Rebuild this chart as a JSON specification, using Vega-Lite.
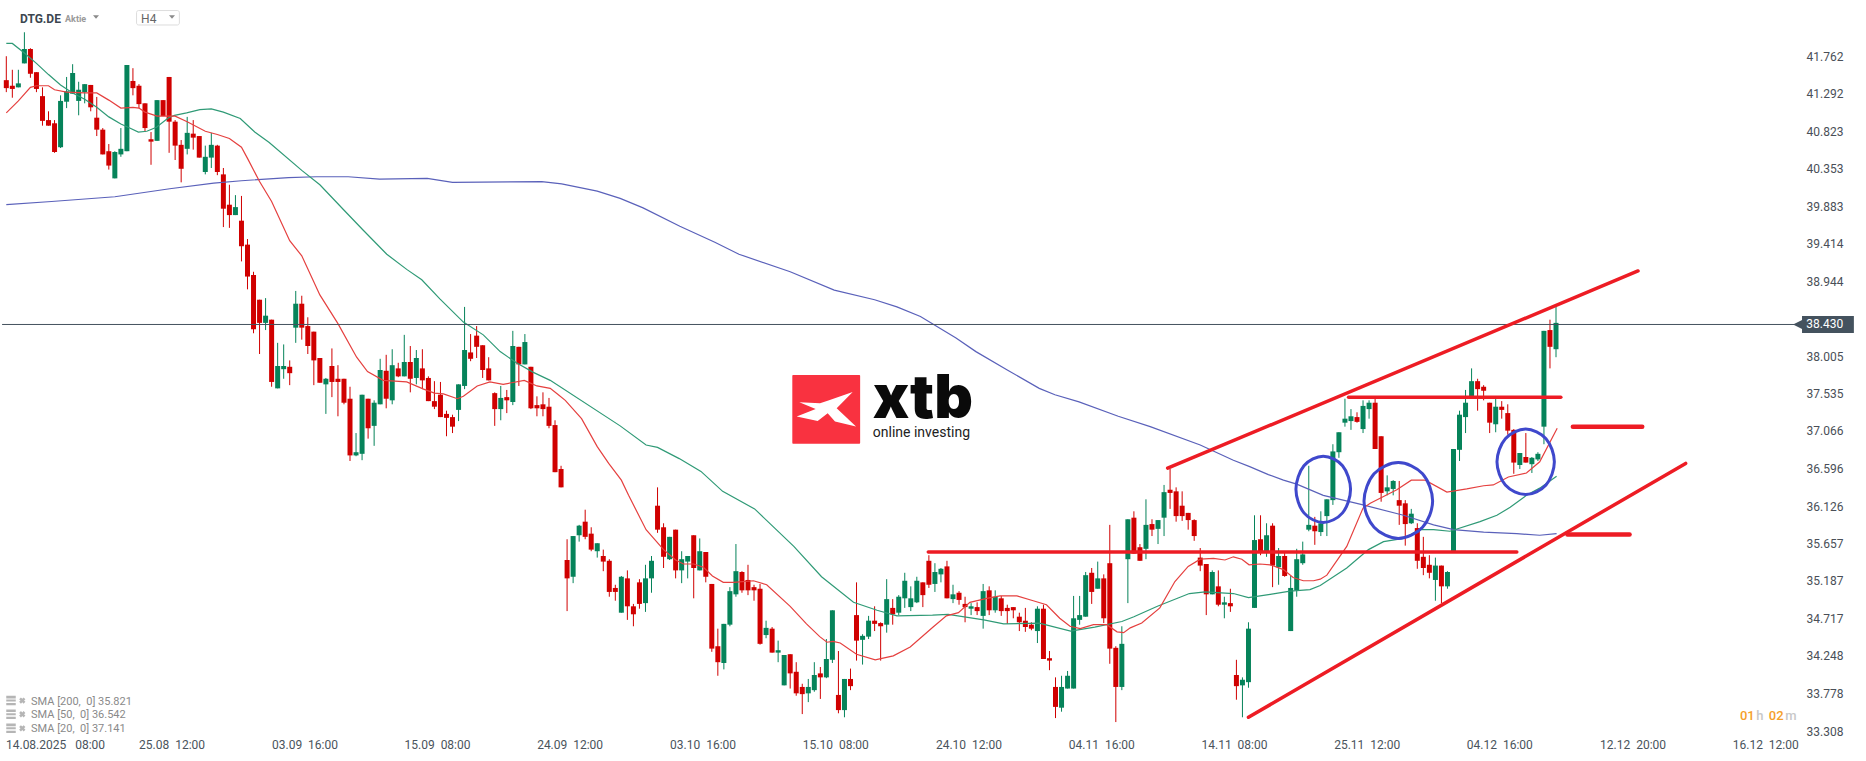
{
"$schema":"https://vega.github.io/schema/vega-lite/v6.json",
"width":1866,"height":761,"padding":0,"autosize":{"type":"none"},"background":"white",
"config":{"font":"Roboto","view":{"stroke":null}},
"datasets":{
"candles":[
{"i":0,"o":41.46,"h":41.76,"l":41.31,"c":41.36},{"i":1,"o":41.39,"h":41.59,"l":41.24,"c":41.35},{"i":2,"o":41.37,"h":41.59,"l":41.37,"c":41.42},{"i":3,"o":41.67,"h":42.06,"l":41.67,"c":41.85},{"i":4,"o":41.85,"h":41.86,"l":41.49,"c":41.54},{"i":5,"o":41.56,"h":41.56,"l":41.31,"c":41.35},{"i":6,"o":41.26,"h":41.37,"l":40.89,"c":40.95},{"i":7,"o":40.96,"h":41.07,"l":40.89,"c":40.89},{"i":8,"o":40.92,"h":40.96,"l":40.55,"c":40.56},{"i":9,"o":40.62,"h":41.27,"l":40.61,"c":41.20},
{"i":10,"o":41.19,"h":41.50,"l":41.11,"c":41.32},{"i":11,"o":41.29,"h":41.66,"l":41.29,"c":41.55},{"i":12,"o":41.20,"h":41.44,"l":41.02,"c":41.34},{"i":13,"o":41.31,"h":41.41,"l":41.17,"c":41.41},{"i":14,"o":41.40,"h":41.40,"l":41.07,"c":41.12},{"i":15,"o":40.99,"h":41.25,"l":40.76,"c":40.84},{"i":16,"o":40.84,"h":40.86,"l":40.53,"c":40.53},{"i":17,"o":40.57,"h":40.66,"l":40.34,"c":40.39},{"i":18,"o":40.23,"h":40.57,"l":40.23,"c":40.56},{"i":19,"o":40.53,"h":40.86,"l":40.50,"c":40.60},
{"i":20,"o":40.57,"h":41.65,"l":40.57,"c":41.65},{"i":21,"o":41.45,"h":41.61,"l":41.27,"c":41.36},{"i":22,"o":41.39,"h":41.41,"l":41.11,"c":41.16},{"i":23,"o":41.17,"h":41.17,"l":40.81,"c":40.86},{"i":24,"o":40.72,"h":40.81,"l":40.40,"c":40.69},{"i":25,"o":40.70,"h":41.21,"l":40.70,"c":41.21},{"i":26,"o":41.21,"h":41.21,"l":41.01,"c":41.01},{"i":27,"o":41.50,"h":41.50,"l":40.55,"c":40.94},{"i":28,"o":40.94,"h":40.96,"l":40.46,"c":40.64},{"i":29,"o":40.65,"h":40.71,"l":40.18,"c":40.35},
{"i":30,"o":40.60,"h":41.00,"l":40.53,"c":40.80},{"i":31,"o":40.79,"h":40.96,"l":40.59,"c":40.74},{"i":32,"o":40.76,"h":40.76,"l":40.49,"c":40.49},{"i":33,"o":40.31,"h":40.64,"l":40.28,"c":40.50},{"i":34,"o":40.49,"h":40.80,"l":40.36,"c":40.65},{"i":35,"o":40.64,"h":40.65,"l":40.27,"c":40.31},{"i":36,"o":40.28,"h":40.36,"l":39.62,"c":39.85},{"i":37,"o":39.90,"h":40.15,"l":39.61,"c":39.77},{"i":38,"o":39.77,"h":40.02,"l":39.77,"c":39.87},{"i":39,"o":39.70,"h":40.01,"l":39.19,"c":39.38},
{"i":40,"o":39.40,"h":39.47,"l":38.84,"c":39.00},{"i":41,"o":39.02,"h":39.06,"l":38.29,"c":38.34},{"i":42,"o":38.71,"h":38.71,"l":38.03,"c":38.42},{"i":43,"o":38.42,"h":38.73,"l":38.33,"c":38.51},{"i":44,"o":38.46,"h":38.46,"l":37.62,"c":37.68},{"i":45,"o":37.60,"h":38.17,"l":37.60,"c":37.88},{"i":46,"o":37.84,"h":38.15,"l":37.72,"c":37.88},{"i":47,"o":37.87,"h":37.95,"l":37.64,"c":37.79},{"i":48,"o":38.36,"h":38.82,"l":38.17,"c":38.66},{"i":49,"o":38.66,"h":38.76,"l":38.21,"c":38.36},
{"i":50,"o":38.38,"h":38.49,"l":38.03,"c":38.13},{"i":51,"o":38.31,"h":38.31,"l":37.64,"c":37.95},{"i":52,"o":37.98,"h":37.98,"l":37.67,"c":37.67},{"i":53,"o":37.65,"h":37.73,"l":37.28,"c":37.72},{"i":54,"o":37.88,"h":38.10,"l":37.49,"c":37.68},{"i":55,"o":37.72,"h":37.89,"l":37.25,"c":37.68},{"i":56,"o":37.72,"h":37.72,"l":37.40,"c":37.42},{"i":57,"o":37.47,"h":37.62,"l":36.69,"c":36.76},{"i":58,"o":36.76,"h":37.04,"l":36.75,"c":36.80},{"i":59,"o":36.78,"h":37.52,"l":36.70,"c":37.52},
{"i":60,"o":37.47,"h":37.47,"l":36.97,"c":37.10},{"i":61,"o":37.13,"h":37.45,"l":36.88,"c":37.42},{"i":62,"o":37.40,"h":37.97,"l":37.40,"c":37.83},{"i":63,"o":37.82,"h":38.02,"l":37.35,"c":37.47},{"i":64,"o":37.45,"h":38.09,"l":37.40,"c":37.89},{"i":65,"o":37.85,"h":37.92,"l":37.74,"c":37.75},{"i":66,"o":37.75,"h":38.27,"l":37.75,"c":37.93},{"i":67,"o":37.93,"h":38.13,"l":37.55,"c":37.72},{"i":68,"o":37.73,"h":38.08,"l":37.65,"c":37.98},{"i":69,"o":37.85,"h":38.09,"l":37.59,"c":37.70},
{"i":70,"o":37.73,"h":37.75,"l":37.44,"c":37.44},{"i":71,"o":37.44,"h":37.69,"l":37.34,"c":37.37},{"i":72,"o":37.52,"h":37.68,"l":37.24,"c":37.24},{"i":73,"o":37.28,"h":37.32,"l":37.00,"c":37.23},{"i":74,"o":37.24,"h":37.27,"l":37.04,"c":37.12},{"i":75,"o":37.33,"h":37.65,"l":37.19,"c":37.65},{"i":76,"o":37.63,"h":38.62,"l":37.59,"c":38.08},{"i":77,"o":38.05,"h":38.28,"l":37.94,"c":37.97},{"i":78,"o":38.26,"h":38.38,"l":37.98,"c":38.12},{"i":79,"o":38.14,"h":38.14,"l":37.73,"c":37.83},
{"i":80,"o":37.85,"h":37.99,"l":37.70,"c":37.70},{"i":81,"o":37.54,"h":37.55,"l":37.13,"c":37.34},{"i":82,"o":37.34,"h":37.63,"l":37.20,"c":37.48},{"i":83,"o":37.49,"h":37.58,"l":37.29,"c":37.45},{"i":84,"o":37.43,"h":38.32,"l":37.39,"c":38.13},{"i":85,"o":38.12,"h":38.12,"l":37.63,"c":37.90},{"i":86,"o":37.90,"h":38.28,"l":37.90,"c":38.18},{"i":87,"o":37.87,"h":37.87,"l":37.34,"c":37.35},{"i":88,"o":37.39,"h":37.50,"l":37.25,"c":37.35},{"i":89,"o":37.40,"h":37.55,"l":37.25,"c":37.34},
{"i":90,"o":37.37,"h":37.48,"l":37.10,"c":37.13},{"i":91,"o":37.14,"h":37.20,"l":36.55,"c":36.55},{"i":92,"o":36.59,"h":36.63,"l":36.36,"c":36.36},{"i":93,"o":35.45,"h":35.71,"l":34.81,"c":35.22},{"i":94,"o":35.24,"h":35.75,"l":35.16,"c":35.75},{"i":95,"o":35.76,"h":35.89,"l":35.68,"c":35.88},{"i":96,"o":35.93,"h":36.08,"l":35.71,"c":35.74},{"i":97,"o":35.78,"h":35.86,"l":35.56,"c":35.58},{"i":98,"o":35.56,"h":35.66,"l":35.48,"c":35.66},{"i":99,"o":35.50,"h":35.58,"l":35.31,"c":35.43},
{"i":100,"o":35.44,"h":35.46,"l":34.99,"c":35.05},{"i":101,"o":35.10,"h":35.14,"l":34.94,"c":35.05},{"i":102,"o":34.79,"h":35.25,"l":34.79,"c":35.24},{"i":103,"o":35.22,"h":35.32,"l":34.70,"c":34.87},{"i":104,"o":34.87,"h":34.90,"l":34.62,"c":34.77},{"i":105,"o":35.17,"h":35.21,"l":34.84,"c":34.90},{"i":106,"o":34.91,"h":35.39,"l":34.80,"c":35.22},{"i":107,"o":35.22,"h":35.50,"l":35.04,"c":35.44},{"i":108,"o":36.13,"h":36.36,"l":35.79,"c":35.83},{"i":109,"o":35.86,"h":35.91,"l":35.35,"c":35.49},
{"i":110,"o":35.46,"h":35.74,"l":35.45,"c":35.74},{"i":111,"o":35.83,"h":35.83,"l":35.22,"c":35.32},{"i":112,"o":35.32,"h":35.56,"l":35.16,"c":35.46},{"i":113,"o":35.43,"h":35.50,"l":35.22,"c":35.50},{"i":114,"o":35.76,"h":35.76,"l":34.97,"c":35.35},{"i":115,"o":35.32,"h":35.72,"l":35.32,"c":35.56},{"i":116,"o":35.55,"h":35.55,"l":35.17,"c":35.24},{"i":117,"o":35.15,"h":35.15,"l":34.30,"c":34.34},{"i":118,"o":34.37,"h":34.59,"l":34.00,"c":34.17},{"i":119,"o":34.16,"h":34.65,"l":34.08,"c":34.65},
{"i":120,"o":34.64,"h":35.11,"l":34.62,"c":35.06},{"i":121,"o":35.02,"h":35.65,"l":34.99,"c":35.31},{"i":122,"o":35.30,"h":35.31,"l":35.04,"c":35.07},{"i":123,"o":35.20,"h":35.39,"l":35.01,"c":35.07},{"i":124,"o":35.11,"h":35.14,"l":34.94,"c":35.07},{"i":125,"o":35.09,"h":35.15,"l":34.39,"c":34.40},{"i":126,"o":34.51,"h":34.69,"l":34.47,"c":34.60},{"i":127,"o":34.59,"h":34.61,"l":34.29,"c":34.29},{"i":128,"o":34.29,"h":34.44,"l":34.17,"c":34.32},{"i":129,"o":33.88,"h":34.26,"l":33.88,"c":34.26},
{"i":130,"o":34.27,"h":34.27,"l":33.84,"c":34.03},{"i":131,"o":34.05,"h":34.17,"l":33.75,"c":33.78},{"i":132,"o":33.86,"h":33.90,"l":33.52,"c":33.77},{"i":133,"o":33.78,"h":33.96,"l":33.67,"c":33.86},{"i":134,"o":33.82,"h":34.17,"l":33.80,"c":34.01},{"i":135,"o":34.03,"h":34.11,"l":33.71,"c":33.98},{"i":136,"o":33.98,"h":34.46,"l":33.97,"c":34.21},{"i":137,"o":34.20,"h":34.82,"l":34.16,"c":34.82},{"i":138,"o":33.76,"h":34.31,"l":33.53,"c":33.57},{"i":139,"o":33.57,"h":33.96,"l":33.48,"c":33.96},
{"i":140,"o":33.96,"h":34.09,"l":33.82,"c":33.87},{"i":141,"o":34.76,"h":35.17,"l":34.19,"c":34.44},{"i":142,"o":34.45,"h":34.52,"l":34.14,"c":34.50},{"i":143,"o":34.49,"h":34.75,"l":34.46,"c":34.69},{"i":144,"o":34.69,"h":34.87,"l":34.56,"c":34.65},{"i":145,"o":34.66,"h":34.67,"l":34.19,"c":34.62},{"i":146,"o":34.64,"h":35.21,"l":34.54,"c":34.96},{"i":147,"o":34.85,"h":34.96,"l":34.64,"c":34.77},{"i":148,"o":34.79,"h":35.01,"l":34.76,"c":34.99},{"i":149,"o":34.97,"h":35.29,"l":34.85,"c":35.19},
{"i":150,"o":34.86,"h":35.12,"l":34.81,"c":34.97},{"i":151,"o":34.92,"h":35.24,"l":34.91,"c":35.19},{"i":152,"o":35.17,"h":35.17,"l":34.86,"c":35.01},{"i":153,"o":35.44,"h":35.51,"l":35.10,"c":35.14},{"i":154,"o":35.15,"h":35.41,"l":35.05,"c":35.30},{"i":155,"o":35.27,"h":35.35,"l":35.17,"c":35.34},{"i":156,"o":35.37,"h":35.44,"l":34.97,"c":34.97},{"i":157,"o":34.96,"h":35.14,"l":34.91,"c":35.02},{"i":158,"o":35.04,"h":35.06,"l":34.89,"c":34.95},{"i":159,"o":34.90,"h":34.99,"l":34.67,"c":34.86},
{"i":160,"o":34.84,"h":34.91,"l":34.76,"c":34.87},{"i":161,"o":34.86,"h":34.92,"l":34.76,"c":34.81},{"i":162,"o":34.75,"h":35.15,"l":34.59,"c":35.06},{"i":163,"o":35.07,"h":35.12,"l":34.76,"c":34.82},{"i":164,"o":34.82,"h":35.07,"l":34.79,"c":34.99},{"i":165,"o":34.97,"h":35.00,"l":34.75,"c":34.81},{"i":166,"o":34.85,"h":34.89,"l":34.65,"c":34.81},{"i":167,"o":34.86,"h":34.86,"l":34.72,"c":34.82},{"i":168,"o":34.74,"h":34.79,"l":34.56,"c":34.67},{"i":169,"o":34.69,"h":34.85,"l":34.55,"c":34.61},
{"i":170,"o":34.64,"h":34.67,"l":34.57,"c":34.59},{"i":171,"o":34.56,"h":34.87,"l":34.41,"c":34.84},{"i":172,"o":34.84,"h":34.89,"l":34.21,"c":34.21},{"i":173,"o":34.22,"h":34.31,"l":34.07,"c":34.19},{"i":174,"o":33.86,"h":33.98,"l":33.47,"c":33.61},{"i":175,"o":33.60,"h":34.00,"l":33.55,"c":33.86},{"i":176,"o":33.84,"h":34.06,"l":33.84,"c":34.00},{"i":177,"o":33.84,"h":35.00,"l":33.84,"c":34.72},{"i":178,"o":34.70,"h":35.00,"l":34.64,"c":34.76},{"i":179,"o":34.74,"h":35.30,"l":34.74,"c":35.26},
{"i":180,"o":35.29,"h":35.35,"l":34.90,"c":35.05},{"i":181,"o":35.09,"h":35.43,"l":35.09,"c":35.22},{"i":182,"o":35.22,"h":35.27,"l":34.66,"c":34.72},{"i":183,"o":35.41,"h":35.89,"l":34.15,"c":34.34},{"i":184,"o":34.35,"h":34.37,"l":33.42,"c":33.86},{"i":185,"o":33.86,"h":34.62,"l":33.82,"c":34.40},{"i":186,"o":35.46,"h":35.96,"l":34.91,"c":35.96},{"i":187,"o":35.98,"h":36.06,"l":35.53,"c":35.53},{"i":188,"o":35.61,"h":35.65,"l":35.44,"c":35.44},{"i":189,"o":35.59,"h":36.21,"l":35.46,"c":35.89},
{"i":190,"o":35.90,"h":35.96,"l":35.75,"c":35.83},{"i":191,"o":35.84,"h":35.95,"l":35.65,"c":35.95},{"i":192,"o":35.98,"h":36.39,"l":35.75,"c":36.30},{"i":193,"o":36.33,"h":36.59,"l":36.09,"c":36.29},{"i":194,"o":36.31,"h":36.36,"l":35.93,"c":36.00},{"i":195,"o":36.13,"h":36.31,"l":35.94,"c":36.00},{"i":196,"o":36.04,"h":36.04,"l":35.83,"c":35.95},{"i":197,"o":35.95,"h":35.96,"l":35.69,"c":35.75},{"i":198,"o":35.48,"h":35.60,"l":35.31,"c":35.38},{"i":199,"o":35.40,"h":35.40,"l":34.76,"c":35.02},
{"i":200,"o":35.02,"h":35.32,"l":35.02,"c":35.30},{"i":201,"o":35.12,"h":35.32,"l":34.87,"c":34.89},{"i":202,"o":34.89,"h":34.99,"l":34.72,"c":34.92},{"i":203,"o":34.91,"h":35.09,"l":34.80,"c":34.87},{"i":204,"o":34.01,"h":34.20,"l":33.70,"c":33.87},{"i":205,"o":33.88,"h":33.98,"l":33.48,"c":33.95},{"i":206,"o":33.92,"h":34.67,"l":33.85,"c":34.59},{"i":207,"o":34.85,"h":36.01,"l":34.85,"c":35.70},{"i":208,"o":35.71,"h":36.01,"l":35.51,"c":35.54},{"i":209,"o":35.54,"h":35.91,"l":35.49,"c":35.76},
{"i":210,"o":35.88,"h":35.91,"l":35.11,"c":35.38},{"i":211,"o":35.36,"h":35.60,"l":35.14,"c":35.50},{"i":212,"o":35.50,"h":35.54,"l":35.24,"c":35.25},{"i":213,"o":34.56,"h":35.25,"l":34.56,"c":35.10},{"i":214,"o":35.07,"h":35.59,"l":34.99,"c":35.46},{"i":215,"o":35.41,"h":35.68,"l":35.39,"c":35.52},{"i":216,"o":35.83,"h":36.63,"l":35.81,"c":35.89},{"i":217,"o":35.88,"h":35.99,"l":35.64,"c":35.81},{"i":218,"o":35.80,"h":36.06,"l":35.75,"c":35.91},{"i":219,"o":36.00,"h":36.21,"l":35.75,"c":36.21},
{"i":220,"o":36.20,"h":36.90,"l":36.14,"c":36.81},{"i":221,"o":36.80,"h":37.05,"l":36.73,"c":37.05},{"i":222,"o":37.17,"h":37.47,"l":37.12,"c":37.22},{"i":223,"o":37.19,"h":37.34,"l":37.08,"c":37.25},{"i":224,"o":37.24,"h":37.30,"l":37.17,"c":37.18},{"i":225,"o":37.09,"h":37.45,"l":37.04,"c":37.38},{"i":226,"o":37.34,"h":37.45,"l":37.22,"c":37.42},{"i":227,"o":37.42,"h":37.47,"l":36.84,"c":36.84},{"i":228,"o":37.00,"h":37.00,"l":36.18,"c":36.29},{"i":229,"o":36.31,"h":36.51,"l":36.26,"c":36.36},
{"i":230,"o":36.34,"h":36.45,"l":36.26,"c":36.44},{"i":231,"o":36.20,"h":36.44,"l":35.89,"c":36.13},{"i":232,"o":36.16,"h":36.20,"l":35.63,"c":35.90},{"i":233,"o":35.91,"h":36.09,"l":35.90,"c":36.03},{"i":234,"o":35.85,"h":35.91,"l":35.34,"c":35.44},{"i":235,"o":35.49,"h":35.74,"l":35.26,"c":35.35},{"i":236,"o":35.39,"h":35.51,"l":35.22,"c":35.29},{"i":237,"o":35.20,"h":35.48,"l":34.94,"c":35.38},{"i":238,"o":35.38,"h":35.38,"l":34.91,"c":35.12},{"i":239,"o":35.12,"h":35.31,"l":35.09,"c":35.30},
{"i":240,"o":35.55,"h":36.84,"l":35.55,"c":36.84},{"i":241,"o":36.83,"h":37.32,"l":36.69,"c":37.27},{"i":242,"o":37.24,"h":37.58,"l":37.04,"c":37.42},{"i":243,"o":37.50,"h":37.85,"l":37.50,"c":37.69},{"i":244,"o":37.69,"h":37.72,"l":37.32,"c":37.59},{"i":245,"o":37.62,"h":37.64,"l":37.45,"c":37.57},{"i":246,"o":37.42,"h":37.42,"l":37.04,"c":37.17},{"i":247,"o":37.15,"h":37.47,"l":37.05,"c":37.37},{"i":248,"o":37.37,"h":37.44,"l":37.22,"c":37.33},{"i":249,"o":37.29,"h":37.40,"l":37.02,"c":37.07},
{"i":250,"o":37.08,"h":37.09,"l":36.53,"c":36.67},{"i":251,"o":36.64,"h":36.79,"l":36.59,"c":36.79},{"i":252,"o":36.74,"h":37.04,"l":36.67,"c":36.67},{"i":253,"o":36.65,"h":36.74,"l":36.54,"c":36.73},{"i":254,"o":36.71,"h":36.80,"l":36.69,"c":36.78},{"i":255,"o":37.12,"h":38.32,"l":36.90,"c":38.32},{"i":256,"o":38.33,"h":38.46,"l":37.85,"c":38.12},{"i":257,"o":38.09,"h":38.62,"l":37.99,"c":38.42}
],
"sma":[
{"s":"SMA200","i":0,"p":39.90},{"s":"SMA200","i":7.5,"p":39.94},{"s":"SMA200","i":18,"p":40.00},{"s":"SMA200","i":27.1,"p":40.10},{"s":"SMA200","i":34.4,"p":40.17},{"s":"SMA200","i":39,"p":40.20},{"s":"SMA200","i":46.8,"p":40.24},{"s":"SMA200","i":51.4,"p":40.25},{"s":"SMA200","i":56.7,"p":40.25},{"s":"SMA200","i":61.9,"p":40.22},{"s":"SMA200","i":69.8,"p":40.23},{"s":"SMA200","i":74,"p":40.18},{"s":"SMA200","i":88.8,"p":40.19},{"s":"SMA200","i":92.1,"p":40.16},{"s":"SMA200","i":98,"p":40.07},{"s":"SMA200","i":101.8,"p":39.98},{"s":"SMA200","i":105.6,"p":39.86},{"s":"SMA200","i":111.7,"p":39.63},{"s":"SMA200","i":117.5,"p":39.43},{"s":"SMA200","i":121.5,"p":39.28},{"s":"SMA200","i":130,"p":39.06},{"s":"SMA200","i":137.3,"p":38.83},{"s":"SMA200","i":144,"p":38.71},{"s":"SMA200","i":147.7,"p":38.62},{"s":"SMA200","i":151.6,"p":38.50},{"s":"SMA200","i":157.5,"p":38.23},{"s":"SMA200","i":160.8,"p":38.06},{"s":"SMA200","i":166,"p":37.83},{"s":"SMA200","i":171.3,"p":37.60},{"s":"SMA200","i":173.9,"p":37.52},{"s":"SMA200","i":177.9,"p":37.43},{"s":"SMA200","i":184.4,"p":37.25},{"s":"SMA200","i":189.7,"p":37.12},{"s":"SMA200","i":198,"p":36.89},{"s":"SMA200","i":203.5,"p":36.70},{"s":"SMA200","i":206.2,"p":36.62},{"s":"SMA200","i":209.3,"p":36.52},{"s":"SMA200","i":211.8,"p":36.45},{"s":"SMA200","i":214,"p":36.40},{"s":"SMA200","i":218.4,"p":36.26},{"s":"SMA200","i":225,"p":36.14},{"s":"SMA200","i":231.7,"p":36.01},{"s":"SMA200","i":236.7,"p":35.89},{"s":"SMA200","i":240,"p":35.83},{"s":"SMA200","i":245,"p":35.80},{"s":"SMA200","i":250.5,"p":35.78},{"s":"SMA200","i":254.3,"p":35.76},{"s":"SMA200","i":257.1,"p":35.78},
{"s":"SMA50","i":0,"p":41.92},{"s":"SMA50","i":1,"p":41.92},{"s":"SMA50","i":3,"p":41.80},{"s":"SMA50","i":5,"p":41.67},{"s":"SMA50","i":7,"p":41.53},{"s":"SMA50","i":9,"p":41.40},{"s":"SMA50","i":11,"p":41.30},{"s":"SMA50","i":13,"p":41.22},{"s":"SMA50","i":15,"p":41.12},{"s":"SMA50","i":17,"p":41.00},{"s":"SMA50","i":19,"p":40.91},{"s":"SMA50","i":20.2,"p":40.87},{"s":"SMA50","i":21.9,"p":40.81},{"s":"SMA50","i":23.3,"p":40.82},{"s":"SMA50","i":24.9,"p":40.87},{"s":"SMA50","i":26.9,"p":40.99},{"s":"SMA50","i":27.9,"p":41.02},{"s":"SMA50","i":29.9,"p":41.05},{"s":"SMA50","i":32.1,"p":41.09},{"s":"SMA50","i":34,"p":41.10},{"s":"SMA50","i":36,"p":41.06},{"s":"SMA50","i":38.8,"p":40.98},{"s":"SMA50","i":41.2,"p":40.81},{"s":"SMA50","i":43.6,"p":40.68},{"s":"SMA50","i":49,"p":40.33},{"s":"SMA50","i":52,"p":40.15},{"s":"SMA50","i":55.9,"p":39.84},{"s":"SMA50","i":59.2,"p":39.58},{"s":"SMA50","i":63.1,"p":39.28},{"s":"SMA50","i":66.4,"p":39.09},{"s":"SMA50","i":68.9,"p":38.96},{"s":"SMA50","i":71.9,"p":38.72},{"s":"SMA50","i":75.8,"p":38.43},{"s":"SMA50","i":79.1,"p":38.27},{"s":"SMA50","i":81.9,"p":38.06},{"s":"SMA50","i":84.6,"p":37.92},{"s":"SMA50","i":87.4,"p":37.80},{"s":"SMA50","i":90.2,"p":37.70},{"s":"SMA50","i":101.8,"p":37.13},{"s":"SMA50","i":106.1,"p":36.89},{"s":"SMA50","i":108,"p":36.86},{"s":"SMA50","i":111.6,"p":36.72},{"s":"SMA50","i":115.2,"p":36.56},{"s":"SMA50","i":118.8,"p":36.31},{"s":"SMA50","i":124.1,"p":36.09},{"s":"SMA50","i":130.6,"p":35.62},{"s":"SMA50","i":135.2,"p":35.24},{"s":"SMA50","i":140.5,"p":34.92},{"s":"SMA50","i":144.4,"p":34.82},{"s":"SMA50","i":147.7,"p":34.75},{"s":"SMA50","i":153.6,"p":34.76},{"s":"SMA50","i":156.2,"p":34.77},{"s":"SMA50","i":162.1,"p":34.70},{"s":"SMA50","i":165.4,"p":34.65},{"s":"SMA50","i":171.3,"p":34.66},{"s":"SMA50","i":176.5,"p":34.56},{"s":"SMA50","i":180.5,"p":34.61},{"s":"SMA50","i":185,"p":34.68},{"s":"SMA50","i":187,"p":34.74},{"s":"SMA50","i":190.9,"p":34.87},{"s":"SMA50","i":196.2,"p":35.03},{"s":"SMA50","i":198.8,"p":35.05},{"s":"SMA50","i":203.5,"p":35.03},{"s":"SMA50","i":206,"p":34.98},{"s":"SMA50","i":209.6,"p":35.02},{"s":"SMA50","i":212.9,"p":35.06},{"s":"SMA50","i":216.2,"p":35.08},{"s":"SMA50","i":217.9,"p":35.13},{"s":"SMA50","i":222.3,"p":35.35},{"s":"SMA50","i":225.9,"p":35.58},{"s":"SMA50","i":228.4,"p":35.68},{"s":"SMA50","i":231.7,"p":35.72},{"s":"SMA50","i":234.4,"p":35.83},{"s":"SMA50","i":236.7,"p":35.83},{"s":"SMA50","i":239.4,"p":35.81},{"s":"SMA50","i":244.4,"p":35.93},{"s":"SMA50","i":247.2,"p":36.01},{"s":"SMA50","i":249.4,"p":36.11},{"s":"SMA50","i":252.1,"p":36.26},{"s":"SMA50","i":254.3,"p":36.35},{"s":"SMA50","i":257.1,"p":36.50},
{"s":"SMA20","i":0,"p":41.05},{"s":"SMA20","i":2,"p":41.20},{"s":"SMA20","i":4,"p":41.37},{"s":"SMA20","i":5,"p":41.39},{"s":"SMA20","i":7,"p":41.39},{"s":"SMA20","i":8,"p":41.34},{"s":"SMA20","i":10,"p":41.31},{"s":"SMA20","i":13,"p":41.30},{"s":"SMA20","i":15,"p":41.30},{"s":"SMA20","i":17,"p":41.21},{"s":"SMA20","i":19,"p":41.11},{"s":"SMA20","i":21,"p":41.12},{"s":"SMA20","i":22,"p":41.11},{"s":"SMA20","i":23,"p":41.06},{"s":"SMA20","i":25,"p":41.01},{"s":"SMA20","i":28,"p":41.01},{"s":"SMA20","i":30,"p":40.94},{"s":"SMA20","i":33,"p":40.82},{"s":"SMA20","i":35,"p":40.78},{"s":"SMA20","i":37,"p":40.73},{"s":"SMA20","i":39,"p":40.62},{"s":"SMA20","i":40,"p":40.48},{"s":"SMA20","i":42,"p":40.19},{"s":"SMA20","i":44,"p":39.94},{"s":"SMA20","i":47,"p":39.45},{"s":"SMA20","i":49,"p":39.26},{"s":"SMA20","i":52,"p":38.77},{"s":"SMA20","i":55,"p":38.41},{"s":"SMA20","i":58.1,"p":37.99},{"s":"SMA20","i":59.9,"p":37.81},{"s":"SMA20","i":62.5,"p":37.70},{"s":"SMA20","i":66.4,"p":37.68},{"s":"SMA20","i":69.2,"p":37.59},{"s":"SMA20","i":71,"p":37.54},{"s":"SMA20","i":72.5,"p":37.53},{"s":"SMA20","i":74.8,"p":37.47},{"s":"SMA20","i":75.8,"p":37.50},{"s":"SMA20","i":78.1,"p":37.63},{"s":"SMA20","i":80.2,"p":37.68},{"s":"SMA20","i":82.4,"p":37.65},{"s":"SMA20","i":83.8,"p":37.67},{"s":"SMA20","i":85.9,"p":37.70},{"s":"SMA20","i":88,"p":37.63},{"s":"SMA20","i":90.2,"p":37.60},{"s":"SMA20","i":91.4,"p":37.53},{"s":"SMA20","i":92.7,"p":37.45},{"s":"SMA20","i":95.4,"p":37.22},{"s":"SMA20","i":98,"p":36.87},{"s":"SMA20","i":99.9,"p":36.66},{"s":"SMA20","i":102,"p":36.45},{"s":"SMA20","i":103.2,"p":36.26},{"s":"SMA20","i":106.1,"p":35.83},{"s":"SMA20","i":109,"p":35.58},{"s":"SMA20","i":111,"p":35.45},{"s":"SMA20","i":112.3,"p":35.40},{"s":"SMA20","i":114,"p":35.40},{"s":"SMA20","i":115.6,"p":35.36},{"s":"SMA20","i":117.1,"p":35.25},{"s":"SMA20","i":118.9,"p":35.17},{"s":"SMA20","i":120.6,"p":35.17},{"s":"SMA20","i":123.9,"p":35.19},{"s":"SMA20","i":126.1,"p":35.14},{"s":"SMA20","i":130,"p":34.87},{"s":"SMA20","i":132.7,"p":34.65},{"s":"SMA20","i":134.9,"p":34.49},{"s":"SMA20","i":136.1,"p":34.42},{"s":"SMA20","i":137.1,"p":34.43},{"s":"SMA20","i":138.3,"p":34.41},{"s":"SMA20","i":141,"p":34.27},{"s":"SMA20","i":144.1,"p":34.20},{"s":"SMA20","i":147.1,"p":34.25},{"s":"SMA20","i":149.9,"p":34.36},{"s":"SMA20","i":153.7,"p":34.61},{"s":"SMA20","i":155.9,"p":34.75},{"s":"SMA20","i":157.9,"p":34.79},{"s":"SMA20","i":159.8,"p":34.92},{"s":"SMA20","i":162.6,"p":34.97},{"s":"SMA20","i":164.8,"p":35.00},{"s":"SMA20","i":167.6,"p":35.00},{"s":"SMA20","i":170.3,"p":34.94},{"s":"SMA20","i":172.5,"p":34.89},{"s":"SMA20","i":174.7,"p":34.72},{"s":"SMA20","i":176.4,"p":34.62},{"s":"SMA20","i":178.1,"p":34.59},{"s":"SMA20","i":180.3,"p":34.64},{"s":"SMA20","i":182.5,"p":34.64},{"s":"SMA20","i":184.2,"p":34.55},{"s":"SMA20","i":185.3,"p":34.54},{"s":"SMA20","i":186.4,"p":34.60},{"s":"SMA20","i":188.3,"p":34.66},{"s":"SMA20","i":191.3,"p":34.85},{"s":"SMA20","i":193.8,"p":35.18},{"s":"SMA20","i":196,"p":35.37},{"s":"SMA20","i":198,"p":35.46},{"s":"SMA20","i":200.2,"p":35.47},{"s":"SMA20","i":202.1,"p":35.45},{"s":"SMA20","i":203.5,"p":35.49},{"s":"SMA20","i":204.9,"p":35.46},{"s":"SMA20","i":206.1,"p":35.39},{"s":"SMA20","i":207.9,"p":35.40},{"s":"SMA20","i":209.6,"p":35.39},{"s":"SMA20","i":211.8,"p":35.33},{"s":"SMA20","i":213.4,"p":35.23},{"s":"SMA20","i":215.1,"p":35.19},{"s":"SMA20","i":216.8,"p":35.19},{"s":"SMA20","i":217.9,"p":35.21},{"s":"SMA20","i":219,"p":35.26},{"s":"SMA20","i":222.3,"p":35.62},{"s":"SMA20","i":225,"p":36.10},{"s":"SMA20","i":226.2,"p":36.16},{"s":"SMA20","i":230.6,"p":36.33},{"s":"SMA20","i":233,"p":36.45},{"s":"SMA20","i":235.3,"p":36.45},{"s":"SMA20","i":238.9,"p":36.30},{"s":"SMA20","i":242.2,"p":36.34},{"s":"SMA20","i":245,"p":36.38},{"s":"SMA20","i":246.6,"p":36.39},{"s":"SMA20","i":249.1,"p":36.49},{"s":"SMA20","i":252.1,"p":36.54},{"s":"SMA20","i":254.3,"p":36.68},{"s":"SMA20","i":257.2,"p":37.10}
],
"drawn":[
{"id":"upper","i":192.6,"p":36.60},{"id":"upper","i":270.6,"p":39.07},
{"id":"lower","i":206,"p":33.48},{"id":"lower","i":278.5,"p":36.66},
{"id":"h1","i":152.9,"p":35.55},{"id":"h1","i":250.5,"p":35.55},
{"id":"h2","i":222.6,"p":37.49},{"id":"h2","i":257.8,"p":37.49}
],
"targets":[
{"id":"t1","i":259.8,"p":37.12},{"id":"t1","i":271.3,"p":37.12},
{"id":"t2","i":258.9,"p":35.77},{"id":"t2","i":269.2,"p":35.77}
],
"circles":[
{"id":"c1","k":0,"i":222.93,"p":36.335},{"id":"c1","k":1,"i":221.6,"p":36.63},{"id":"c1","k":2,"i":218.4,"p":36.75},{"id":"c1","k":3,"i":215.2,"p":36.63},{"id":"c1","k":4,"i":213.87,"p":36.335},{"id":"c1","k":5,"i":215.2,"p":36.04},{"id":"c1","k":6,"i":218.4,"p":35.92},{"id":"c1","k":7,"i":221.6,"p":36.04},
{"id":"c2","k":0,"i":236.54,"p":36.19},{"id":"c2","k":1,"i":234.87,"p":36.53},{"id":"c2","k":2,"i":230.85,"p":36.67},{"id":"c2","k":3,"i":226.83,"p":36.53},{"id":"c2","k":4,"i":225.16,"p":36.19},{"id":"c2","k":5,"i":226.83,"p":35.86},{"id":"c2","k":6,"i":230.85,"p":35.72},{"id":"c2","k":7,"i":234.87,"p":35.86},
{"id":"c3","k":0,"i":256.73,"p":36.68},{"id":"c3","k":1,"i":255.34,"p":36.97},{"id":"c3","k":2,"i":251.97,"p":37.09},{"id":"c3","k":3,"i":248.6,"p":36.97},{"id":"c3","k":4,"i":247.21,"p":36.68},{"id":"c3","k":5,"i":248.6,"p":36.39},{"id":"c3","k":6,"i":251.97,"p":36.27},{"id":"c3","k":7,"i":255.34,"p":36.39}
]
},
"encoding":{
"x":{"field":"i","type":"quantitative","scale":{"domain":[-1.045,308.41],"nice":false,"zero":false,"padding":0},
"axis":{"orient":"bottom","offset":-16.3,"title":null,"grid":false,"domain":false,"ticks":false,"labelPadding":0,"labelBaseline":"middle","labelFontSize":12,"labelColor":"#4a545c","labelOverlap":false,"labelBound":false,"labelFlush":false,
"values":[8.08,27.41,49.45,71.43,93.42,115.47,137.48,159.55,181.6,203.6,225.6,247.6,269.7,291.7],
"labelExpr":"{'8.08':'14.08.2025\u00a0\u00a0\u00a008:00','27.41':'25.08\u00a0\u00a012:00','49.45':'03.09\u00a0\u00a016:00','71.43':'15.09\u00a0\u00a008:00','93.42':'24.09\u00a0\u00a012:00','115.47':'03.10\u00a0\u00a016:00','137.48':'15.10\u00a0\u00a008:00','159.55':'24.10\u00a0\u00a012:00','181.6':'04.11\u00a0\u00a016:00','203.6':'14.11\u00a0\u00a008:00','225.6':'25.11\u00a0\u00a012:00','247.6':'04.12\u00a0\u00a016:00','269.7':'12.12\u00a0\u00a020:00','291.7':'16.12\u00a0\u00a012:00'}[datum.value]"}},
"y":{"field":"p","type":"quantitative","scale":{"domain":[32.9325,42.464],"nice":false,"zero":false},
"axis":{"orient":"left","offset":-1806,"title":null,"grid":false,"domain":false,"ticks":false,"labelPadding":0,"labelAlign":"left","labelFontSize":12,"labelColor":"#4a4f57","labelOverlap":false,"labelBound":false,"format":".3f",
"values":[33.308,33.778,34.248,34.717,35.187,35.657,36.126,36.596,37.066,37.535,38.005,38.944,39.414,39.883,40.353,40.823,41.292,41.762]}}
},
"layer":[
{"data":{"name":"candles"},"mark":{"type":"rule","strokeWidth":1},
"encoding":{"y":{"field":"h","type":"quantitative",
"axis":{"orient":"left","offset":-1806,"title":null,"grid":false,"domain":false,"ticks":false,"labelPadding":0,"labelAlign":"left","labelFontSize":12,"labelColor":"#4a4f57","labelOverlap":false,"labelBound":false,"format":".3f",
"values":[33.308,33.778,34.248,34.717,35.187,35.657,36.126,36.596,37.066,37.535,38.005,38.944,39.414,39.883,40.353,40.823,41.292,41.762]}},"y2":{"field":"l"},
"color":{"condition":{"test":"datum.c>=datum.o","value":"#06835a"},"value":"#d00000"}}},
{"data":{"name":"candles"},"mark":{"type":"bar","size":5,"orient":"vertical"},
"encoding":{"y":{"field":"o","type":"quantitative",
"axis":{"orient":"left","offset":-1806,"title":null,"grid":false,"domain":false,"ticks":false,"labelPadding":0,"labelAlign":"left","labelFontSize":12,"labelColor":"#4a4f57","labelOverlap":false,"labelBound":false,"format":".3f",
"values":[33.308,33.778,34.248,34.717,35.187,35.657,36.126,36.596,37.066,37.535,38.005,38.944,39.414,39.883,40.353,40.823,41.292,41.762]}},"y2":{"field":"c"},
"color":{"condition":{"test":"datum.c>=datum.o","value":"#06835a"},"value":"#d00000"}}},
{"data":{"name":"sma"},"mark":{"type":"line","strokeWidth":1.2},
"encoding":{"color":{"field":"s","type":"nominal","legend":null,"scale":{"domain":["SMA200","SMA50","SMA20"],"range":["#5a61ba","#2f9a76","#e5403f"]}},"order":{"field":"i"}}},
{"data":{"values":[{"i":-0.7,"i2":297,"p":38.40}]},"mark":{"type":"rule","strokeWidth":1,"color":"#44525e"},
"encoding":{"x2":{"field":"i2"}}},
{"data":{"name":"drawn"},"mark":{"type":"line","strokeWidth":3.5,"color":"#ed1c24","strokeCap":"round"},"encoding":{"detail":{"field":"id"}}},
{"data":{"name":"targets"},"mark":{"type":"line","strokeWidth":4.5,"color":"#ed1c24","strokeCap":"round"},"encoding":{"detail":{"field":"id"}}},
{"data":{"name":"circles"},"mark":{"type":"line","strokeWidth":3,"color":"#3f48cc","interpolate":"cardinal-closed"},"encoding":{"detail":{"field":"id"},"order":{"field":"k"}}},
{"data":{"values":[{"i":297.8,"i2":306.4,"p":38.506,"p2":38.293}]},"mark":{"type":"rect","color":"#44525e"},
"encoding":{"x2":{"field":"i2"},"y2":{"field":"p2"}}},
{"data":{"values":[{"i":297.1,"p":38.40}]},"mark":{"type":"point","shape":"M 1 -1 L 1 1 L -1 0 Z","filled":true,"opacity":1,"color":"#44525e","size":90}},
{"data":{"values":[{"i":298.5,"p":38.40,"label":"38.430"}]},"mark":{"type":"text","align":"left","baseline":"middle","fontSize":12,"color":"white"},"encoding":{"text":{"field":"label"}}},
{"data":{"values":[{"i":130.35,"i2":141.6,"p":37.767,"p2":36.907}]},"mark":{"type":"rect","color":"#f93240","cornerRadius":1},
"encoding":{"x2":{"field":"i2"},"y2":{"field":"p2"}}},
{"data":{"values":[{"i":136.05,"p":37.338}]},"mark":{"type":"point","shape":"M -0.82 -0.21 L -0.2 -0.18 L 0.05 -0.26 L 0.78 -0.52 L 0.3 -0.03 L 0.88 0.52 L 0.25 0.37 L 0.03 0.12 L -0.27 0.35 L -0.9 0.22 L -0.33 -0.01 Z","filled":true,"opacity":1,"color":"white","size":4444}},
{"data":{"values":[{"i":143.7,"p":37.225,"label":"xtb"}]},"mark":{"type":"text","font":"Inter","align":"left","baseline":"alphabetic","fontSize":60,"fontWeight":900,"color":"#0a0a0a"},"encoding":{"text":{"field":"label"}}},
{"data":{"values":[{"i":143.7,"p":36.995,"label":"online investing"}]},"mark":{"type":"text","align":"left","baseline":"alphabetic","fontSize":14,"color":"#222222"},"encoding":{"text":{"field":"label"}}},
{"data":{"values":[{"i":2.27,"p":42.226,"label":"DTG.DE"}]},"mark":{"type":"text","align":"left","baseline":"middle","fontSize":12,"fontWeight":"bold","color":"#3c4650"},"encoding":{"text":{"field":"label"}}},
{"data":{"values":[{"i":9.74,"p":42.226,"label":"Aktie"}]},"mark":{"type":"text","align":"left","baseline":"middle","fontSize":9,"fontWeight":"bold","color":"#9a9a9a"},"encoding":{"text":{"field":"label"}}},
{"data":{"values":[{"i":21.6,"i2":28.7,"p":42.332,"p2":42.151}]},"mark":{"type":"rect","fill":"white","stroke":"#dddddd","strokeWidth":1,"cornerRadius":2},
"encoding":{"x2":{"field":"i2"},"y2":{"field":"p2"}}},
{"data":{"values":[{"i":22.35,"p":42.22,"label":"H4"}]},"mark":{"type":"text","align":"left","baseline":"middle","fontSize":12,"color":"#666666"},"encoding":{"text":{"field":"label"}}},
{"data":{"values":[{"i":14.88,"p":42.251},{"i":27.48,"p":42.251}]},"mark":{"type":"point","shape":"M -1 -0.6 L 1 -0.6 L 0 0.6 Z","filled":true,"opacity":1,"color":"#8a8a8a","size":36}},
{"data":{"values":[{"i":0.78,"p":33.69},{"i":0.78,"p":33.518},{"i":0.78,"p":33.342}]},"mark":{"type":"point","shape":"M -1 -1 H 1 V -0.45 H -1 Z M -1 -0.2 H 1 V 0.2 H -1 Z M -1 0.5 H 1 V 1 H -1 Z","filled":true,"opacity":1,"color":"#b5b5b5","size":90}},
{"data":{"values":[{"i":2.65,"p":33.69},{"i":2.65,"p":33.518},{"i":2.65,"p":33.342}]},"mark":{"type":"point","shape":"cross","angle":45,"filled":true,"opacity":1,"color":"#b5b5b5","size":40}},
{"data":{"values":[{"i":4.1,"p":33.675,"label":"SMA [200,\u00a0\u00a00] 35.821"},{"i":4.1,"p":33.51,"label":"SMA [50,\u00a0\u00a00] 36.542"},{"i":4.1,"p":33.33,"label":"SMA [20,\u00a0\u00a00] 37.141"}]},"mark":{"type":"text","align":"left","baseline":"middle","fontSize":11,"color":"#8a8a8a"},"encoding":{"text":{"field":"label"}}},
{"data":{"values":[{"i":287.5,"p":33.496,"label":"01"},{"i":292.3,"p":33.496,"label":"02"}]},"mark":{"type":"text","align":"left","baseline":"middle","fontSize":13,"fontWeight":500,"color":"#f5a02a"},"encoding":{"text":{"field":"label"}}},
{"data":{"values":[{"i":290.2,"p":33.496,"label":"h"},{"i":295,"p":33.496,"label":"m"}]},"mark":{"type":"text","align":"left","baseline":"middle","fontSize":13,"fontWeight":500,"color":"#c8c8c8"},"encoding":{"text":{"field":"label"}}}
]
}
